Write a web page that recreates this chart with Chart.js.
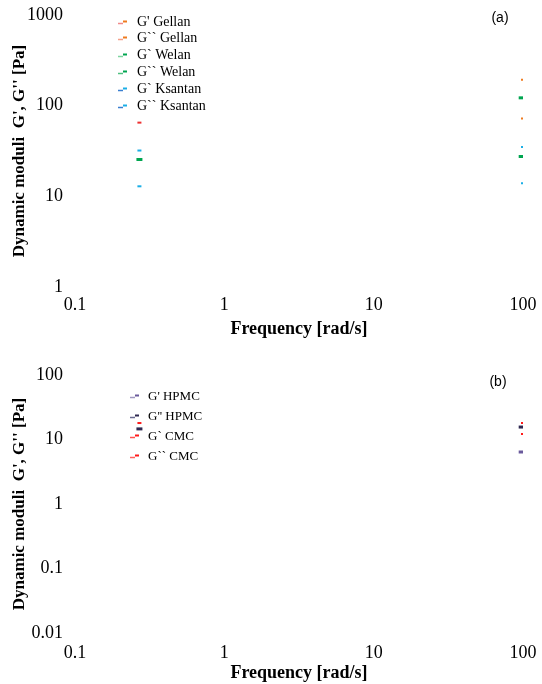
<!DOCTYPE html>
<html>
<head>
<meta charset="utf-8">
<script src="https://cdn.jsdelivr.net/npm/chart.js@4/dist/chart.umd.min.js"></script>
<style>
  body { margin: 0; background: #fff; }
  .panel { width: 542px; height: 342px; }
</style>
</head>
<body>
<div class="panel"><canvas id="chartA" width="542" height="342"></canvas></div>
<div class="panel"><canvas id="chartB" width="542" height="342"></canvas></div>
<script>
// axis ticks
const freqTicks = [0.1, 1, 10, 100];
const modTicksA = [1, 10, 100, 1000];
const modTicksB = [0.01, 0.1, 1, 10, 100];

// panel (a) - [frequency, modulus]
const labelsA = ["G' Gellan", "G`` Gellan", "G` Welan", "G`` Welan", "G` Ksantan", "G`` Ksantan"];
const gp_gellan = [[100, 193]];
const gpp_gellan = [[0.27, 65], [100, 72]];
const gp_welan = [[98, 122]];
const gpp_welan = [[0.27, 25.5], [98, 27.5]];
const gp_ksantan = [[0.27, 32], [100, 35]];
const gpp_ksantan = [[0.27, 12.9], [100, 13.9]];

// panel (b)
const labelsB = ["G' HPMC", "G'' HPMC", "G` CMC", "G`` CMC"];
const gp_hpmc = [[98, 6.4]];
const gpp_hpmc = [[0.27, 14.6], [98, 15.6]];
const gp_cmc = [[0.27, 18], [100, 18]];
const gpp_cmc = [[100, 12.2]];

const SERIF = "'Liberation Serif', 'Times New Roman', serif";

// legend drawn inside the plot, like the original figure
const insideLegend = {
  id: "insideLegend",
  afterDraw(chart, args, o) {
    const ctx = chart.ctx;
    ctx.save();
    ctx.font = o.font;
    ctx.textBaseline = "middle";
    chart.data.datasets.forEach((ds, i) => {
      const y = Math.round(o.y + i * o.gap) + 0.5;
      ctx.lineWidth = 1.5;
      ctx.strokeStyle = ds.tint;
      ctx.beginPath(); ctx.moveTo(o.x, y + 1); ctx.lineTo(o.x + 5, y + 1); ctx.stroke();
      ctx.strokeStyle = ds.borderColor;
      ctx.lineWidth = 2;
      ctx.beginPath(); ctx.moveTo(o.x + 5, y - 1); ctx.lineTo(o.x + 9, y - 1); ctx.stroke();
      ctx.fillStyle = "#000";
      ctx.fillText(ds.label, o.x + o.textOffset, y);
    });
    ctx.font = "14px 'Liberation Sans', Arial, sans-serif";
    ctx.textAlign = "center";
    ctx.fillText(o.tag, o.tagX, o.tagY);
    ctx.restore();
  }
};

function series(label, pts, color, tint, wide, pointColors) {
  return {
    label: label,
    data: pts.map(p => ({ x: p[0], y: p[1] })),
    showLine: false,
    borderColor: color,
    backgroundColor: color,
    tint: tint,
    pointStyle: "line",
    pointRadius: wide ? 3 : 2,
    pointBorderWidth: wide ? 3 : 2,
    pointBorderColor: pointColors || color,
    pointHoverRadius: 0
  };
}

function options(yTicks, pad, xAxisH, xPad, titlePad, legend) {
  return {
    responsive: false,
    animation: false,
    layout: { padding: { top: pad, right: 19, left: 0, bottom: 0 } },
    plugins: {
      legend: { display: false },
      tooltip: { enabled: false },
      insideLegend: legend
    },
    scales: {
      x: {
        type: "logarithmic",
        min: 0.1, max: 100,
        afterBuildTicks: s => { s.ticks = freqTicks.map(v => ({ value: v })); },
        afterFit: s => { s.height = xAxisH; s.paddingLeft = 0; s.paddingRight = 0; },
        ticks: { callback: v => String(v), color: "#000", font: { family: SERIF, size: 18 }, padding: xPad, maxRotation: 0, autoSkip: false },
        grid: { display: false, drawTicks: false },
        border: { display: false },
        title: { display: true, text: "Frequency [rad/s]", color: "#000", font: { family: SERIF, size: 18, weight: "bold" }, padding: { top: 0, bottom: titlePad } }
      },
      y: {
        type: "logarithmic",
        min: yTicks[0], max: yTicks[yTicks.length - 1],
        afterBuildTicks: s => { s.ticks = yTicks.map(v => ({ value: v })); },
        afterFit: s => { s.width = 75; s.paddingTop = 0; s.paddingBottom = 0; },
        ticks: { callback: v => String(v), color: "#000", font: { family: SERIF, size: 18 }, padding: 12, autoSkip: false },
        grid: { display: false, drawTicks: false },
        border: { display: false },
        title: { display: true, text: "Dynamic moduli  G', G'' [Pa]", color: "#000", font: { family: SERIF, size: 17, weight: "bold" }, padding: { top: 9, bottom: 0 } }
      }
    }
  };
}

new Chart(document.getElementById("chartA"), {
  type: "scatter",
  data: {
    datasets: [
      series(labelsA[0], gp_gellan, "#ef7b1f", "#f08a8a"),
      series(labelsA[1], gpp_gellan, "#ef7b1f", "#f4a08a", false, ["#ee3030", "#ef7b1f"]),
      series(labelsA[2], gp_welan, "#00a550", "#7fd4a0", true),
      series(labelsA[3], gpp_welan, "#00a550", "#50c080", true),
      series(labelsA[4], gp_ksantan, "#1aaee6", "#3a7fd0"),
      series(labelsA[5], gpp_ksantan, "#1aaee6", "#3a7fd0")
    ]
  },
  options: options(modTicksA, 15, 55, 7, 2, {
    x: 118, y: 21.5, gap: 16.9, textOffset: 19, font: "14px " + SERIF,
    tag: "(a)", tagX: 500, tagY: 18
  }),
  plugins: [insideLegend]
});

new Chart(document.getElementById("chartB"), {
  type: "scatter",
  data: {
    datasets: [
      series(labelsB[0], gp_hpmc, "#6a5a9c", "#a098c0", true),
      series(labelsB[1], gpp_hpmc, "#2e2850", "#6a6a90", true),
      series(labelsB[2], gp_cmc, "#ff1a1a", "#ff5050"),
      series(labelsB[3], gpp_cmc, "#ff1a1a", "#ff6060")
    ]
  },
  options: options(modTicksB, 33, 51, 9, 0, {
    x: 130, y: 54, gap: 20, textOffset: 18, font: "13px " + SERIF,
    tag: "(b)", tagX: 498, tagY: 40
  }),
  plugins: [insideLegend]
});
</script>
</body>
</html>
